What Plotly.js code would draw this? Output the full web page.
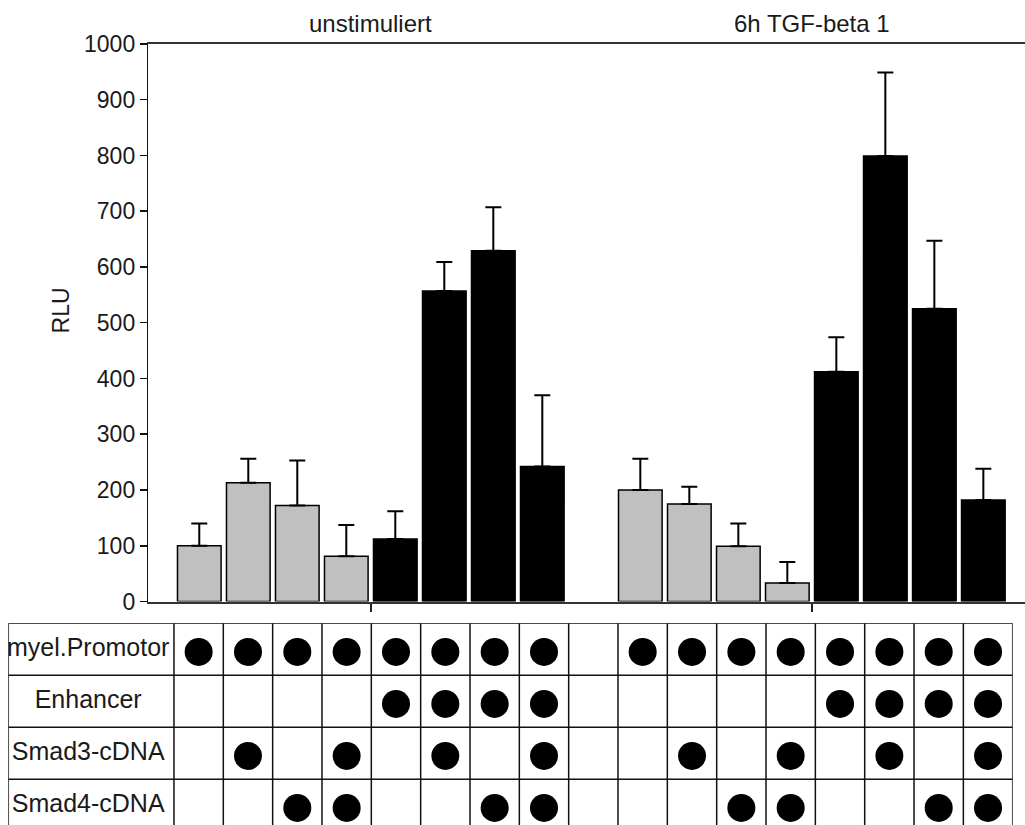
<!DOCTYPE html>
<html><head><meta charset="utf-8">
<script src="https://cdn.plot.ly/plotly-3.0.1.min.js"></script>
<style>html,body{margin:0;padding:0;background:#fff}#chart{width:1025px;height:825px}</style>
</head><body><div id="chart"></div>
<script>
// ---- data ----
const groups = ['unstimuliert', '6h TGF-beta 1'];
const rlu_unstim = [100, 213, 172, 81, 112, 557, 629, 242];
const err_unstim = [40, 43, 81, 56, 50, 52, 78, 128];
const rlu_tgf    = [200, 175, 99, 33, 412, 799, 525, 182];
const err_tgf    = [56, 31, 41, 38, 62, 150, 122, 56];
const rowLabels = ['myel.Promotor', 'Enhancer', 'Smad3-cDNA', 'Smad4-cDNA'];
const promotor = [1, 1, 1, 1, 1, 1, 1, 1];
const enhancer = [0, 0, 0, 0, 1, 1, 1, 1];
const smad3    = [0, 1, 0, 1, 0, 1, 0, 1];
const smad4    = [0, 0, 1, 1, 0, 0, 1, 1];

// ---- build ----
const rlu = [rlu_unstim, rlu_tgf];
const err = [err_unstim, err_tgf];
const rows = [promotor, enhancer, smad3, smad4];
const nCond = promotor.length;
const slot = (g, i) => g * (nCond + 1) + i;
const lastSlot = slot(groups.length - 1, nCond - 1);

const grayBar = {x: [], y: [], e: []}, blackBar = {x: [], y: [], e: []};
groups.forEach((g, gi) => {
  for (let i = 0; i < nCond; i++) {
    const t = enhancer[i] ? blackBar : grayBar;
    t.x.push(slot(gi, i)); t.y.push(rlu[gi][i]); t.e.push(err[gi][i]);
  }
});
function barTrace(d, color, name) {
  return {
    type: 'bar', name: name, x: d.x, y: d.y, width: 0.89,
    marker: {color: color, line: {color: '#000', width: 1.5}},
    error_y: {type: 'data', symmetric: false, array: d.e, arrayminus: d.e.map(() => 0),
              color: '#000', thickness: 2, width: 8},
    xaxis: 'x', yaxis: 'y', hoverinfo: 'y'
  };
}
const dots = {x: [], y: []};
rows.forEach((r, ri) => {
  groups.forEach((g, gi) => {
    r.forEach((v, i) => { if (v) { dots.x.push(slot(gi, i)); dots.y.push(ri + 0.55); } });
  });
});
const labelCol = -3.858;   // left edge of label column in table units
const tableBottom = 3.879;
const traces = [
  barTrace(grayBar, '#c0c0c0', 'ohne Enhancer'),
  barTrace(blackBar, '#000000', 'mit Enhancer'),
  {type: 'scatter', mode: 'markers', x: dots.x, y: dots.y, xaxis: 'x2', yaxis: 'y2',
   marker: {color: '#000', size: 28, line: {width: 0}}, hoverinfo: 'skip'},
  {type: 'scatter', mode: 'text', x: rowLabels.map(() => (labelCol - 0.5) / 2 - 0.06),
   y: rowLabels.map((_, i) => i + 0.5), text: rowLabels, textposition: 'middle center',
   textfont: {family: 'Liberation Sans, Arial, sans-serif', size: 25, color: '#1a1a1a'},
   xaxis: 'x2', yaxis: 'y2', cliponaxis: true, hoverinfo: 'skip'}
];

const shapes = [];
const lineStyle = {color: '#111', width: 1.5};
for (let r = 0; r < rows.length; r++) {
  shapes.push({type: 'line', xref: 'x2', yref: 'y2', x0: labelCol, x1: lastSlot + 0.5, y0: r, y1: r, line: lineStyle});
}
const vlines = [labelCol];
for (let c = 0; c <= lastSlot + 1; c++) vlines.push(c - 0.5);
vlines.forEach(xv => shapes.push({type: 'line', xref: 'x2', yref: 'y2', x0: xv, x1: xv, y0: 0, y1: tableBottom, line: lineStyle}));

const font = {family: 'Liberation Sans, Arial, sans-serif', size: 23, color: '#1a1a1a'};
const annotations = groups.map((g, gi) => ({
  text: g, xref: 'x', yref: 'paper', x: slot(gi, 0) + (nCond - 1) / 2, y: 0.972,
  showarrow: false, xanchor: 'center', yanchor: 'middle',
  font: {family: font.family, size: 24, color: '#1a1a1a'}
}));
annotations.push({text: 'RLU', xref: 'paper', yref: 'paper', x: 0.0592, y: 0.6234, textangle: -90,
  showarrow: false, xanchor: 'center', yanchor: 'middle', font: {family: font.family, size: 23, color: '#1a1a1a'}});

const layout = {
  width: 1025, height: 825, margin: {l: 0, r: 0, t: 0, b: 0},
  paper_bgcolor: '#fff', plot_bgcolor: '#fff', showlegend: false, font: font,
  barmode: 'overlay',
  xaxis: {domain: [0.1447, 1], range: [-1.04, 16.85], showgrid: false, zeroline: false,
          showline: true, mirror: true, linecolor: '#333', linewidth: 2,
          tickmode: 'array', tickvals: [slot(0, 0) + (nCond - 1) / 2, slot(1, 0) + (nCond - 1) / 2],
          ticks: 'outside', ticklen: 8, tickwidth: 1.5, tickcolor: '#222', showticklabels: false, fixedrange: true},
  yaxis: {domain: [0.2709, 0.9467], range: [0, 1000], dtick: 100, tick0: 0, showgrid: false, zeroline: false,
          showline: true, linecolor: '#111', linewidth: 1.5, ticks: 'outside', ticklen: 7, tickwidth: 1.5,
          tickcolor: '#111', tickfont: font, fixedrange: true},
  xaxis2: {domain: [0.0081, 0.988], range: [labelCol, lastSlot + 0.5], anchor: 'y2', visible: false, fixedrange: true},
  yaxis2: {domain: [0, 0.2445], range: [tableBottom, 0], anchor: 'x2', visible: false, fixedrange: true},
  shapes: shapes, annotations: annotations, hovermode: false
};
Plotly.newPlot('chart', traces, layout, {displayModeBar: false, staticPlot: true});
</script></body></html>
